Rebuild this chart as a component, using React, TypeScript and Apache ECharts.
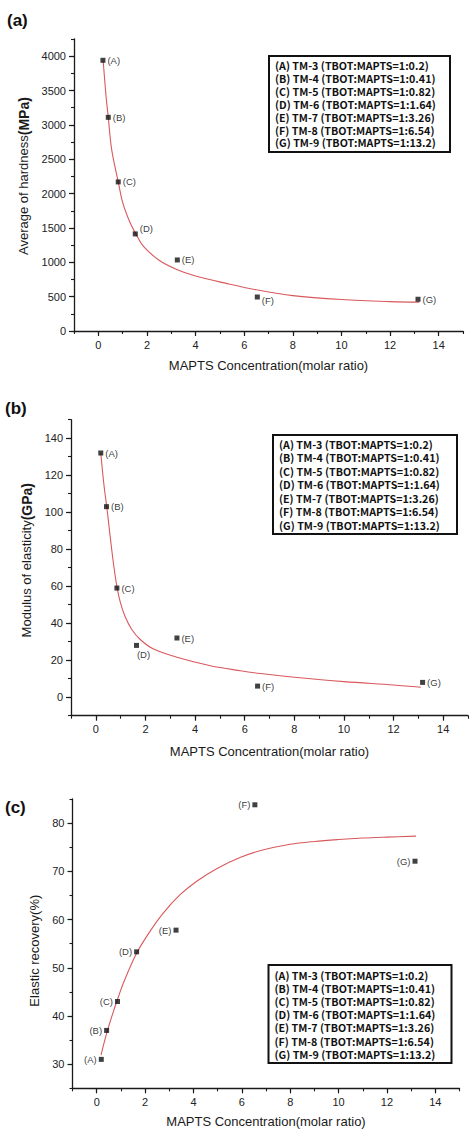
import React, { useEffect, useRef } from "react";
import * as echarts from "echarts";

// ---- data ----
const pointLabels = ["(A)", "(B)", "(C)", "(D)", "(E)", "(F)", "(G)"];
const legendLines = [
  "(A) TM-3 (TBOT:MAPTS=1:0.2)",
  "(B) TM-4 (TBOT:MAPTS=1:0.41)",
  "(C) TM-5 (TBOT:MAPTS=1:0.82)",
  "(D) TM-6 (TBOT:MAPTS=1:1.64)",
  "(E) TM-7 (TBOT:MAPTS=1:3.26)",
  "(F) TM-8 (TBOT:MAPTS=1:6.54)",
  "(G) TM-9 (TBOT:MAPTS=1:13.2)",
];

const xTicks = [0, 2, 4, 6, 8, 10, 12, 14];
const hardTicks = [0, 500, 1000, 1500, 2000, 2500, 3000, 3500, 4000];
const modTicks = [0, 20, 40, 60, 80, 100, 120, 140];
const recTicks = [30, 40, 50, 60, 70, 80];

// (a) hardness
const hardX = [0.19, 0.41, 0.82, 1.52, 3.25, 6.54, 13.15];
const hardY = [3940, 3110, 2170, 1413, 1034, 495, 462];
const hardFitX = [0.2, 0.32, 0.41, 0.55, 0.82, 1.01, 1.29, 1.55, 1.84, 2.5, 3.2, 4.0, 5.3, 6.5, 8, 10, 12, 13.2];
const hardFitY = [3930, 3410, 3110, 2640, 2170, 1860, 1590, 1410, 1240, 1030, 900, 800, 690, 600, 515, 458, 428, 420];

// (b) modulus
const modX = [0.2, 0.43, 0.85, 1.64, 3.27, 6.52, 13.17];
const modY = [132, 103, 59, 28, 32, 6, 8];
const modFitX = [0.2, 0.335, 0.44, 0.58, 0.71, 0.85, 0.98, 1.18, 1.45, 1.79, 2.33, 3.27, 4.62, 5.83, 6.64, 8, 10, 12, 13.1];
const modFitY = [131.9, 113.9, 103, 86.8, 72.4, 59.8, 51.7, 43.6, 36.6, 31.2, 26.0, 21.6, 17.0, 14.3, 12.8, 10.8, 8.4, 6.6, 5.4];

// (c) elastic recovery
const recX = [0.19, 0.41, 0.86, 1.65, 3.28, 6.54, 13.16];
const recY = [31.0, 37.0, 43.0, 53.3, 57.8, 83.8, 72.1];
const recFitX = [0.18, 0.41, 0.69, 0.9, 1.1, 1.66, 2.21, 2.76, 3.46, 4.15, 4.98, 5.95, 6.78, 8, 9, 10, 11, 12, 13.2];
const recFitY = [31.9, 36.4, 40.9, 44.0, 46.8, 53.1, 57.6, 61.4, 65.2, 68.0, 70.6, 72.9, 74.3, 75.6, 76.2, 76.6, 76.9, 77.1, 77.3];

const AXIS = "#1a1a1a";
const FONT = "Liberation Sans";
const FIT = "#d9585c";

const grids = [
  { left: 74, top: 39, width: 389, height: 292 },
  { left: 71, top: 419.7, width: 397, height: 296 },
  { left: 72.5, top: 799, width: 387, height: 289.3 },
];

const plainNum = (v: number) => String(v);

function majorX(gridIndex: number, gap: number) {
  return {
    type: "value",
    gridIndex,
    min: -1,
    max: 15,
    position: "bottom",
    name: "MAPTS Concentration(molar ratio)",
    nameLocation: "middle",
    nameGap: gap,
    nameTextStyle: { fontFamily: FONT, fontSize: 13, color: "#1a1a1a" },
    axisLine: { show: true, onZero: false, lineStyle: { color: AXIS, width: 1.3 } },
    axisTick: { show: true, length: 5, customValues: xTicks, lineStyle: { color: AXIS, width: 1.2 } },
    axisLabel: { show: true, customValues: xTicks, formatter: plainNum, margin: 8, fontFamily: FONT, fontSize: 11, color: "#222" },
    splitLine: { show: false },
  };
}

function minorX(gridIndex: number) {
  return {
    type: "value",
    gridIndex,
    min: -1,
    max: 15,
    interval: 1,
    position: "bottom",
    axisLine: { show: false, onZero: false },
    axisTick: { show: true, length: 3, lineStyle: { color: AXIS, width: 1.1 } },
    axisLabel: { show: false },
    splitLine: { show: false },
  };
}

function majorY(gridIndex: number, min: number, max: number, ticks: number[], name: any, gap: number, rich: any, padding: number[]) {
  return {
    type: "value",
    gridIndex,
    min,
    max,
    position: "left",
    name,
    nameLocation: "middle",
    nameGap: gap,
    nameTextStyle: { fontFamily: FONT, fontSize: 13, color: "#1a1a1a", rich, padding },
    axisLine: { show: true, onZero: false, lineStyle: { color: AXIS, width: 1.3 } },
    axisTick: { show: true, length: 5, customValues: ticks, lineStyle: { color: AXIS, width: 1.2 } },
    axisLabel: { show: true, customValues: ticks, formatter: plainNum, margin: 8, fontFamily: FONT, fontSize: 11, color: "#222" },
    splitLine: { show: false },
  };
}

function minorY(gridIndex: number, min: number, max: number, interval: number) {
  return {
    type: "value",
    gridIndex,
    min,
    max,
    interval,
    position: "left",
    axisLine: { show: false, onZero: false },
    axisTick: { show: true, length: 3, lineStyle: { color: AXIS, width: 1.1 } },
    axisLabel: { show: false },
    splitLine: { show: false },
  };
}

function scatter(idx: number, xs: number[], ys: number[], pos: any[]) {
  return {
    type: "scatter",
    xAxisIndex: idx,
    yAxisIndex: idx,
    symbol: "rect",
    symbolSize: 5,
    itemStyle: { color: "#111" },
    z: 5,
    data: xs.map((x, i) => ({
      value: [x, ys[i]],
      label: {
        show: true,
        formatter: pointLabels[i],
        position: pos[i][0],
        offset: [pos[i][1], pos[i][2]],
        distance: 2,
        fontFamily: FONT,
        fontSize: 9.5,
        color: "#000",
      },
    })),
  };
}

function fit(idx: number, xs: number[], ys: number[]) {
  return {
    type: "line",
    xAxisIndex: idx,
    yAxisIndex: idx,
    showSymbol: false,
    smooth: 0.35,
    lineStyle: { color: FIT, width: 1.1 },
    z: 3,
    data: xs.map((x, i) => [x, ys[i]]),
  };
}

function legendBox(x: number, y: number, w: number, h: number, firstY: number, lh: number) {
  return {
    type: "group",
    children: [
      { type: "rect", shape: { x, y, width: w, height: h }, style: { fill: "#fff", stroke: "#111", lineWidth: 2 } },
      ...legendLines.map((t, i) => ({
        type: "text",
        x: x + 6,
        y: firstY + i * lh,
        style: {
          text: t,
          fontFamily: "Noto Sans CJK KR",
          fontWeight: "bold",
          fontSize: 10.7,
          fill: "#111",
          textVerticalAlign: "middle",
        },
      })),
    ],
  };
}

function panelLabel(text: string, x: number, y: number) {
  return {
    type: "text",
    x,
    y,
    style: { text, fontFamily: FONT, fontWeight: "bold", fontSize: 17, fill: "#111", textVerticalAlign: "middle" },
  };
}

export default function App() {
  const ref = useRef<HTMLDivElement>(null);
  useEffect(() => {
    if (!ref.current) return;
    const chart = echarts.init(ref.current, null, { renderer: "svg" });
    const bold = { fontFamily: FONT, fontSize: 14, fontWeight: "bold", color: "#1a1a1a" };
    const norm = { fontFamily: FONT, fontSize: 13, color: "#1a1a1a" };
    chart.setOption({
      animation: false,
      backgroundColor: "#fff",
      grid: [...grids, ...grids].map((g) => ({ ...g, containLabel: false })),
      xAxis: [majorX(0, 28), majorX(1, 29), majorX(2, 27), minorX(3), minorX(4), minorX(5)],
      yAxis: [
        majorY(0, 0, 4250, hardTicks, "{n|Average of hardness}{b|(MPa)}", 32, { n: norm, b: bold }, [0, 0, 0, 18]),
        majorY(1, -10, 150, modTicks, "{n|Modulus of elasticity}{b|(GPa)}", 34, { n: norm, b: bold }, [0, 0, 0, 15]),
        majorY(2, 25, 85, recTicks, "Elastic recovery(%)", 27, {}, [0, 14, 0, 0]),
        minorY(3, 0, 4250, 250),
        minorY(4, -10, 150, 10),
        minorY(5, 25, 85, 5),
      ],
      series: [
        fit(0, hardFitX, hardFitY),
        scatter(0, hardX, hardY, [
          ["right", 0, 0], ["right", 0, 0], ["right", 0, 0], ["right", 0, -5], ["right", 0, 0], ["right", 0, 4], ["right", 0, 0],
        ]),
        fit(1, modFitX, modFitY),
        scatter(1, modX, modY, [
          ["right", 0, 0], ["right", 0, 0], ["right", 0, 0], ["bottom", 7, 0], ["right", 0, 0], ["right", 0, 0], ["right", 0, 0],
        ]),
        fit(2, recFitX, recFitY),
        scatter(2, recX, recY, [
          ["left", 0, 0], ["left", 0, 0], ["left", 0, 0], ["left", 0, 0], ["left", 0, 0], ["left", 0, 0], ["left", 0, 0],
        ]),
      ],
      graphic: [
        panelLabel("(a)", 7, 20),
        panelLabel("(b)", 5, 408),
        panelLabel("(c)", 5, 807),
        legendBox(269, 56, 181, 96, 65.5, 12.9),
        legendBox(273, 435, 184, 99, 444.5, 13.45),
        legendBox(268.5, 965, 183, 98, 975, 13.2),
      ],
    });
    return () => chart.dispose();
  }, []);
  return (
    <div
      ref={ref}
      style={{ position: "absolute", left: 0, top: 0, width: 476, height: 1137, background: "#fff" }}
    />
  );
}
